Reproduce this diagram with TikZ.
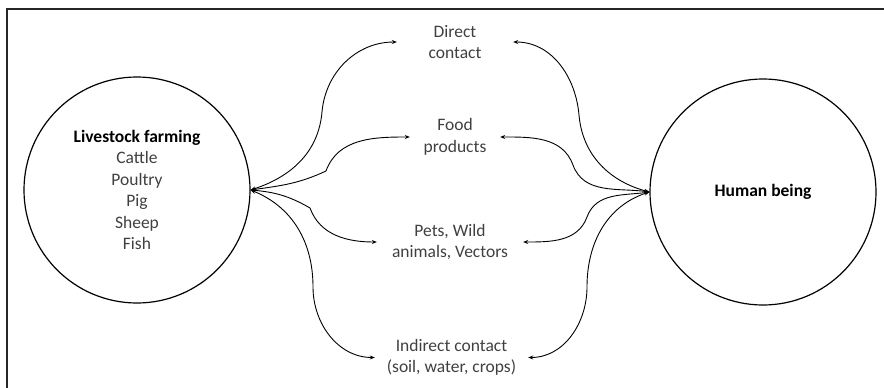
\documentclass[tikz,border=0pt]{standalone}
\usepackage{fontspec}
\setmainfont{Carlito}
\usetikzlibrary{arrows.meta}
\definecolor{txt}{HTML}{404040}
\tikzset{
  bigcircle/.style={draw, line width=1.2pt, circle, minimum size=226pt, inner sep=0pt},
  lbl/.style={align=center, inner sep=0pt, text=txt, font=\fontsize{17.5}{21.5}\selectfont},
  link/.style={line width=0.9pt, {Stealth[length=5pt,width=4pt]}-{Stealth[length=5pt,width=4pt]}},
}
\begin{document}
\begin{tikzpicture}[x=1pt,y=-1pt]
\useasboundingbox (0,0) rectangle (884,388);
\draw[line width=1.5pt, black!85] (7,388) -- (7,9) -- (884,9);
\node[bigcircle] (L) at (137,190) {};
\node[lbl, align=center] (Ltext) at (137,190) {\textbf{\textcolor{black}{Livestock farming}}\\Cattle\\Poultry\\Pig\\Sheep\\Fish};
\node[bigcircle] (R) at (763,192) {};
\node[lbl, text=black] (Rtext) at (763,192) {\textbf{Human being}};
\node[lbl, minimum width=116pt] (direct) at (455,42) {Direct\\contact};
\node[lbl, minimum width=90pt] (food) at (455,137) {Food\\products};
\node[lbl, minimum width=146pt] (pets) at (450,242) {Pets, Wild\\animals, Vectors};
\node[lbl, minimum width=153pt] (indirect) at (451.5,357.5) {Indirect contact\\(soil, water, crops)};
% left side
\draw[link] (L.east) to[out=18,in=-95] (322,112) to[out=85,in=180] (direct.west);
\draw[link] (L.east) to[out=8,in=205] (326,171) to[out=70,in=180] (food.west);
\draw[link] (L.east) to[out=-5,in=150] (310,208) to[out=-70,in=180] (pets.west);
\draw[link] (L.east) to[out=-22,in=90] (313,287) to[out=-90,in=180] (indirect.west);
% right side
\draw[link] (direct.east) to[out=0,in=95] (579,115) to[out=-85,in=165] (R.west);
\draw[link] (food.east) to[out=0,in=110] (573,165) to[out=-70,in=172] (R.west);
\draw[link] (pets.east) to[out=0,in=-110] (587,217) to[out=70,in=188] (R.west);
\draw[link] (indirect.east) to[out=0,in=-90] (587,287) to[out=90,in=198] (R.west);
\end{tikzpicture}
\end{document}
